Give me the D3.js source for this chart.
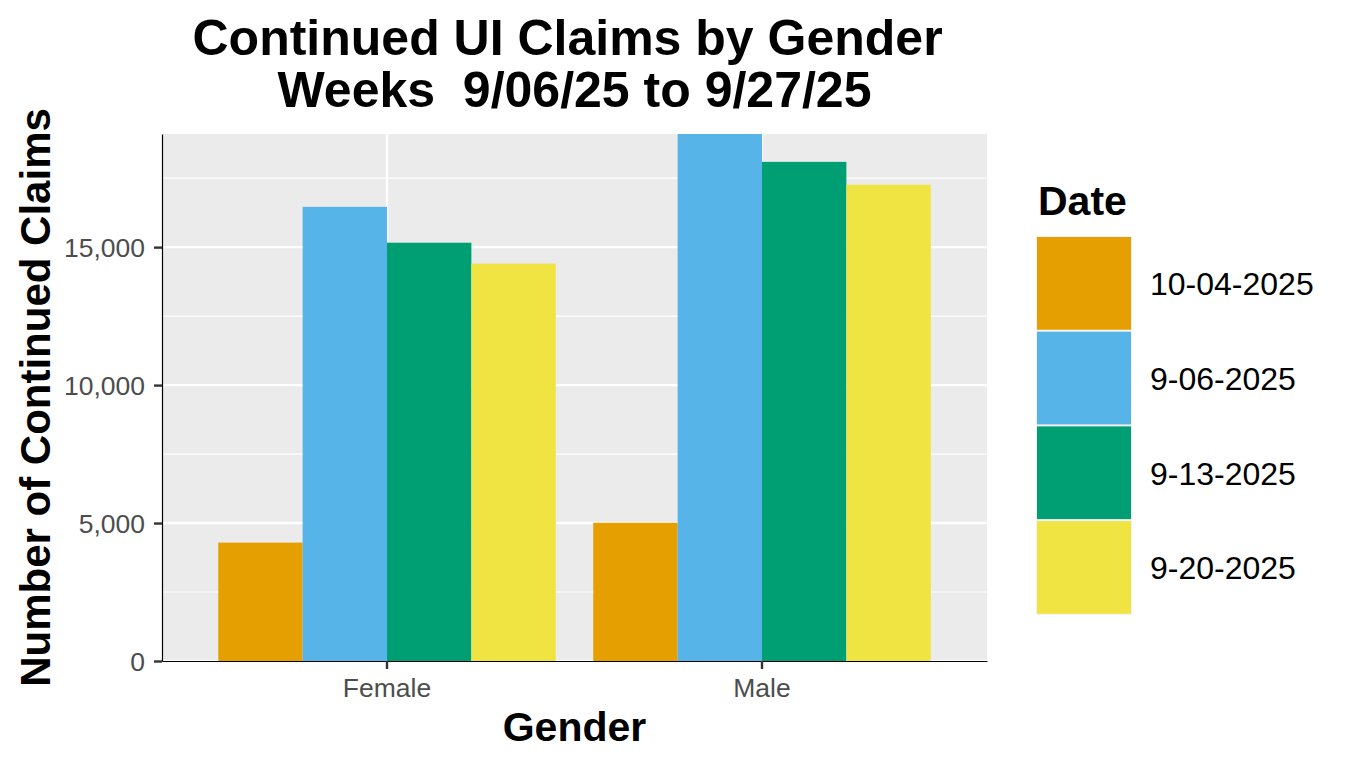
<!DOCTYPE html>
<html>
<head>
<meta charset="utf-8">
<script src="https://cdn.jsdelivr.net/npm/d3@7"></script>
<style>
	body { margin: 0; background: #fff; }
	svg text { font-family: "Liberation Sans", Arial, sans-serif; white-space: pre; }
</style>
</head>
<body>
<script>
// values
const genders = ["Female", "Male"];
const dates = ["10-04-2025", "9-06-2025", "9-13-2025", "9-20-2025"];
const femaleClaims = [4290, 16460, 15160, 14400];
const maleClaims = [5010, 19100, 18090, 17260];
const yTicks = [0, 5000, 10000, 15000];
const yMinor = [2500, 7500, 12500, 17500];

const colours = ["#E69F00", "#56B4E9", "#009E73", "#F0E442"];

let rows = [];
genders.forEach(function(g, gi) {
	let vals = gi == 0 ? femaleClaims : maleClaims;
	dates.forEach(function(d, di) {
		rows.push({ gender: g, date: d, value: vals[di] });
	});
});

const W = 1348, H = 766;
const panel = { left: 162, right: 987, top: 134, bottom: 661 };

let svg = d3.select("body").append("svg")
	.attr("width", W).attr("height", H);

let x = d3.scaleBand()
	.domain(genders)
	.range([panel.left, panel.right])
	.paddingInner(0.1)
	.paddingOuter(0.15);

let xInner = d3.scaleBand()
	.domain(dates)
	.range([0, x.bandwidth()]);

let y = d3.scaleLinear()
	.domain([0, d3.max(rows, function(d) { return d.value; })])
	.range([panel.bottom, panel.top]);

let fill = d3.scaleOrdinal().domain(dates).range(colours);

// panel background + grid
svg.append("rect")
	.attr("x", panel.left).attr("y", panel.top)
	.attr("width", panel.right - panel.left)
	.attr("height", panel.bottom - panel.top)
	.style("fill", "#ebebeb");

svg.selectAll("line.minor")
	.data(yMinor)
	.enter().append("line")
	.attr("class", "minor")
	.attr("x1", panel.left).attr("x2", panel.right)
	.attr("y1", function(d) { return y(d); })
	.attr("y2", function(d) { return y(d); })
	.style("stroke", "#fff").style("stroke-width", 1.2);

svg.selectAll("line.major")
	.data(yTicks)
	.enter().append("line")
	.attr("class", "major")
	.attr("x1", panel.left).attr("x2", panel.right)
	.attr("y1", function(d) { return y(d); })
	.attr("y2", function(d) { return y(d); })
	.style("stroke", "#fff").style("stroke-width", 2.4);

svg.selectAll("line.vmajor")
	.data(genders)
	.enter().append("line")
	.attr("class", "vmajor")
	.attr("x1", function(d) { return x(d) + x.bandwidth() / 2; })
	.attr("x2", function(d) { return x(d) + x.bandwidth() / 2; })
	.attr("y1", panel.top).attr("y2", panel.bottom)
	.style("stroke", "#fff").style("stroke-width", 2.4);

// bars
svg.append("g").selectAll("rect")
	.data(rows)
	.enter().append("rect")
	.attr("x", function(d) { return x(d.gender) + xInner(d.date); })
	.attr("y", function(d) { return y(d.value); })
	.attr("width", xInner.bandwidth())
	.attr("height", function(d) { return y(0) - y(d.value); })
	.style("fill", function(d) { return fill(d.date); });

// axes
let yAxis = svg.append("g")
	.attr("transform", "translate(" + panel.left + ",0)")
	.call(d3.axisLeft(y).tickValues(yTicks).tickFormat(d3.format(",")).tickSizeInner(8).tickSizeOuter(0));

let xAxis = svg.append("g")
	.attr("transform", "translate(0," + panel.bottom + ")")
	.call(d3.axisBottom(x).tickSizeInner(8).tickSizeOuter(0));

[yAxis, xAxis].forEach(function(ax) {
	ax.select(".domain").style("stroke", "#000").style("stroke-width", 1.2);
	ax.selectAll(".tick line").style("stroke", "#333").style("stroke-width", 2.4);
	ax.selectAll(".tick text")
		.style("fill", "#4d4d4d")
		.style("font-size", "26.5px")
		.style("font-family", "'Liberation Sans', Arial, sans-serif");
});
yAxis.selectAll(".tick text").attr("x", -17).attr("dy", "0.35em");
xAxis.selectAll(".tick text").attr("y", 36).attr("dy", 0);

// titles
let mid = (panel.left + panel.right) / 2;
let title = svg.append("text")
	.attr("text-anchor", "middle")
	.style("font-size", "50px").style("font-weight", "bold");
title.append("tspan").attr("x", mid).attr("y", 55).text("Continued UI Claims by Gender ");
title.append("tspan").attr("x", mid).attr("y", 107).text("Weeks  9/06/25 to 9/27/25");

svg.append("text")
	.attr("x", mid).attr("y", 741)
	.attr("text-anchor", "middle")
	.style("font-size", "41px").style("font-weight", "bold")
	.text("Gender");

svg.append("text")
	.attr("transform", "translate(50," + (panel.top + panel.bottom) / 2 + ") rotate(-90)")
	.attr("text-anchor", "middle")
	.style("font-size", "42px").style("font-weight", "bold")
	.text("Number of Continued Claims");

// legend
let keyH = 94.7, keyW = 96, legX = 1036, legY = 236;
let legend = svg.append("g");
legend.append("text")
	.attr("x", legX + 2).attr("y", 215)
	.style("font-size", "41px").style("font-weight", "bold")
	.text("Date");

let keys = legend.selectAll("g.key")
	.data(dates)
	.enter().append("g")
	.attr("class", "key")
	.attr("transform", function(d, i) { return "translate(" + legX + "," + (legY + i * keyH) + ")"; });

keys.append("rect")
	.attr("width", keyW).attr("height", keyH)
	.style("fill", "#f2f2f2");

keys.append("rect")
	.attr("x", 1).attr("y", 1)
	.attr("width", keyW - 2).attr("height", keyH - 2)
	.style("fill", function(d) { return fill(d); });

keys.append("text")
	.attr("x", 114).attr("y", keyH / 2 + 12)
	.style("font-size", "32px")
	.text(function(d) { return d; });
</script>
</body>
</html>
